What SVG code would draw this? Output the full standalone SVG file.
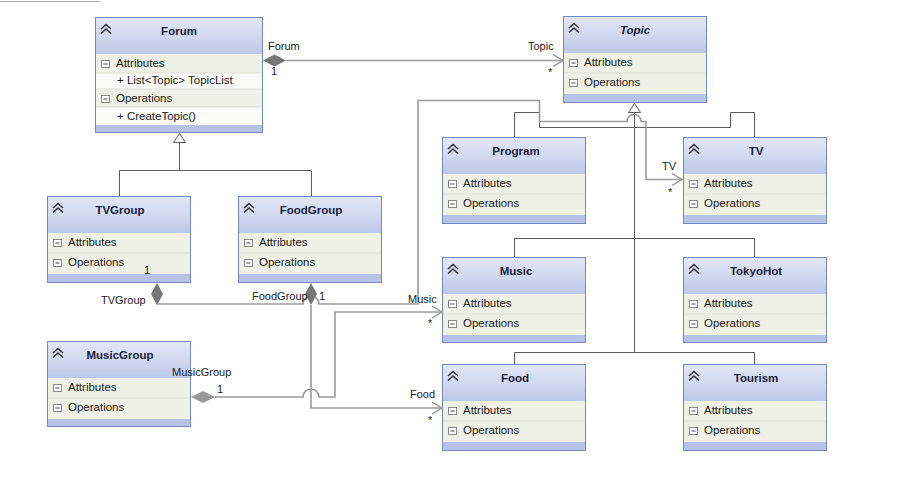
<svg xmlns="http://www.w3.org/2000/svg" xmlns:xlink="http://www.w3.org/1999/xlink" width="904" height="482" viewBox="0 0 904 482">
<style>
text{font-family:"Liberation Sans",Arial,sans-serif;font-size:11.5px;fill:#1a1a1a}
.title{font-weight:bold;text-anchor:middle;fill:#18203a;font-size:11.5px}
.ital{font-style:italic}
.lbl{font-size:11px;fill:#222}
.body{fill:#f6f7f2}
.hdr{fill:url(#hg)}
.sec{fill:#eff1e7}
.item{fill:#fbfbf9}
.band{fill:#b6c3e6}
.frame{fill:none;stroke:#7489bf;stroke-width:1}
.div{stroke:#dcdfd3;stroke-width:1}
.gen{fill:none;stroke:#5c5c5c;stroke-width:1}
.asc{fill:none;stroke:#9c9c9c;stroke-width:1.6}
.dia{fill:#767676}
.tri{fill:#fff;stroke:#5c5c5c;stroke-width:1}
</style>
<defs>
<linearGradient id="hg" x1="0" y1="0" x2="0" y2="1">
<stop offset="0" stop-color="#e3e8f6"/>
<stop offset="0.55" stop-color="#d0d8ef"/>
<stop offset="1" stop-color="#bcc8e9"/>
</linearGradient>
<g id="chev" fill="none" stroke="#333" stroke-width="1.6">
<polyline points="6,12 11,7.5 16,12"/>
<polyline points="6,16.5 11,12 16,16.5"/>
</g>
<g id="mbox">
<rect x="6.5" y="0.5" width="8" height="7" fill="#fff" stroke="#8a8a8a"/>
<line x1="8.5" x2="12.5" y1="4" y2="4" stroke="#444"/>
</g>
<marker id="arr" viewBox="0 0 11 13" refX="10.5" refY="6.5" markerWidth="11" markerHeight="13" orient="auto" markerUnits="userSpaceOnUse">
<path d="M0.5,0.5 L10.5,6.5 L0.5,12.5" fill="none" stroke="#9c9c9c" stroke-width="1.5"/>
</marker>
</defs>
<rect width="904" height="482" fill="#fff"/>
<line x1="0" y1="1.5" x2="100" y2="1.5" stroke="#b0b0b0" stroke-width="1"/>

<g id="Forum" transform="translate(95,17)">
<rect class="body" width="168" height="116"/>
<rect class="hdr" width="168" height="37"/>
<rect class="sec" y="37" width="168" height="19"/>
<rect class="item" y="56" width="168" height="16"/>
<rect class="sec" y="72" width="168" height="18"/>
<rect class="item" y="90" width="168" height="18"/>
<rect class="band" y="108" width="168" height="8"/>
<line class="div" x1="1" x2="167" y1="56" y2="56"/>
<line class="div" x1="1" x2="167" y1="72" y2="72"/>
<line class="div" x1="1" x2="167" y1="90" y2="90"/>
<rect class="frame" x="0.5" y="0.5" width="167" height="115"/>
<use xlink:href="#chev"/>
<text class="title" x="84" y="18">Forum</text>
<use xlink:href="#mbox" y="43"/>
<text x="21" y="50">Attributes</text>
<text x="22" y="67">+ List&lt;Topic&gt; TopicList</text>
<use xlink:href="#mbox" y="78"/>
<text x="21" y="85">Operations</text>
<text x="22" y="103">+ CreateTopic()</text>
</g>

<g id="Topic" transform="translate(563,16)">
<rect class="body" width="144" height="87"/>
<rect class="hdr" width="144" height="37"/>
<rect class="sec" y="37" width="144" height="41"/>
<rect class="band" y="78" width="144" height="9"/>
<line class="div" x1="1" x2="143" y1="57" y2="57"/>
<rect class="frame" x="0.5" y="0.5" width="143" height="86"/>
<use xlink:href="#chev"/>
<text class="title ital" x="72" y="18">Topic</text>
<use xlink:href="#mbox" y="43"/>
<text x="21" y="50">Attributes</text>
<use xlink:href="#mbox" y="63"/>
<text x="21" y="70">Operations</text>
</g>

<g id="Program" transform="translate(442,137)">
<rect class="body" width="144" height="87"/>
<rect class="hdr" width="144" height="37"/>
<rect class="sec" y="37" width="144" height="41"/>
<rect class="band" y="78" width="144" height="9"/>
<line class="div" x1="1" x2="143" y1="57" y2="57"/>
<rect class="frame" x="0.5" y="0.5" width="143" height="86"/>
<use xlink:href="#chev"/>
<text class="title" x="74" y="18">Program</text>
<use xlink:href="#mbox" y="43"/>
<text x="21" y="50">Attributes</text>
<use xlink:href="#mbox" y="63"/>
<text x="21" y="70">Operations</text>
</g>

<g id="TV" transform="translate(683,137)">
<rect class="body" width="144" height="87"/>
<rect class="hdr" width="144" height="37"/>
<rect class="sec" y="37" width="144" height="41"/>
<rect class="band" y="78" width="144" height="9"/>
<line class="div" x1="1" x2="143" y1="57" y2="57"/>
<rect class="frame" x="0.5" y="0.5" width="143" height="86"/>
<use xlink:href="#chev"/>
<text class="title" x="73" y="18">TV</text>
<use xlink:href="#mbox" y="43"/>
<text x="21" y="50">Attributes</text>
<use xlink:href="#mbox" y="63"/>
<text x="21" y="70">Operations</text>
</g>

<g id="TVGroup" transform="translate(47,196)">
<rect class="body" width="144" height="87"/>
<rect class="hdr" width="144" height="37"/>
<rect class="sec" y="37" width="144" height="41"/>
<rect class="band" y="78" width="144" height="9"/>
<line class="div" x1="1" x2="143" y1="57" y2="57"/>
<rect class="frame" x="0.5" y="0.5" width="143" height="86"/>
<use xlink:href="#chev"/>
<text class="title" x="73" y="18">TVGroup</text>
<use xlink:href="#mbox" y="43"/>
<text x="21" y="50">Attributes</text>
<use xlink:href="#mbox" y="63"/>
<text x="21" y="70">Operations</text>
</g>

<g id="FoodGroup" transform="translate(238,196)">
<rect class="body" width="144" height="87"/>
<rect class="hdr" width="144" height="37"/>
<rect class="sec" y="37" width="144" height="41"/>
<rect class="band" y="78" width="144" height="9"/>
<line class="div" x1="1" x2="143" y1="57" y2="57"/>
<rect class="frame" x="0.5" y="0.5" width="143" height="86"/>
<use xlink:href="#chev"/>
<text class="title" x="73" y="18">FoodGroup</text>
<use xlink:href="#mbox" y="43"/>
<text x="21" y="50">Attributes</text>
<use xlink:href="#mbox" y="63"/>
<text x="21" y="70">Operations</text>
</g>

<g id="MusicGroup" transform="translate(47,341)">
<rect class="body" width="144" height="86"/>
<rect class="hdr" width="144" height="37"/>
<rect class="sec" y="37" width="144" height="41"/>
<rect class="band" y="78" width="144" height="8"/>
<line class="div" x1="1" x2="143" y1="57" y2="57"/>
<rect class="frame" x="0.5" y="0.5" width="143" height="85"/>
<use xlink:href="#chev"/>
<text class="title" x="73" y="18">MusicGroup</text>
<use xlink:href="#mbox" y="43"/>
<text x="21" y="50">Attributes</text>
<use xlink:href="#mbox" y="63"/>
<text x="21" y="70">Operations</text>
</g>

<g id="Music" transform="translate(442,257)">
<rect class="body" width="144" height="86"/>
<rect class="hdr" width="144" height="37"/>
<rect class="sec" y="37" width="144" height="41"/>
<rect class="band" y="78" width="144" height="8"/>
<line class="div" x1="1" x2="143" y1="57" y2="57"/>
<rect class="frame" x="0.5" y="0.5" width="143" height="85"/>
<use xlink:href="#chev"/>
<text class="title" x="74" y="18">Music</text>
<use xlink:href="#mbox" y="43"/>
<text x="21" y="50">Attributes</text>
<use xlink:href="#mbox" y="63"/>
<text x="21" y="70">Operations</text>
</g>

<g id="TokyoHot" transform="translate(683,257)">
<rect class="body" width="144" height="86"/>
<rect class="hdr" width="144" height="37"/>
<rect class="sec" y="37" width="144" height="41"/>
<rect class="band" y="78" width="144" height="8"/>
<line class="div" x1="1" x2="143" y1="57" y2="57"/>
<rect class="frame" x="0.5" y="0.5" width="143" height="85"/>
<use xlink:href="#chev"/>
<text class="title" x="73" y="18">TokyoHot</text>
<use xlink:href="#mbox" y="43"/>
<text x="21" y="50">Attributes</text>
<use xlink:href="#mbox" y="63"/>
<text x="21" y="70">Operations</text>
</g>

<g id="Food" transform="translate(442,364)">
<rect class="body" width="144" height="87"/>
<rect class="hdr" width="144" height="37"/>
<rect class="sec" y="37" width="144" height="41"/>
<rect class="band" y="78" width="144" height="9"/>
<line class="div" x1="1" x2="143" y1="57" y2="57"/>
<rect class="frame" x="0.5" y="0.5" width="143" height="86"/>
<use xlink:href="#chev"/>
<text class="title" x="73" y="18">Food</text>
<use xlink:href="#mbox" y="43"/>
<text x="21" y="50">Attributes</text>
<use xlink:href="#mbox" y="63"/>
<text x="21" y="70">Operations</text>
</g>

<g id="Tourism" transform="translate(683,364)">
<rect class="body" width="144" height="87"/>
<rect class="hdr" width="144" height="37"/>
<rect class="sec" y="37" width="144" height="41"/>
<rect class="band" y="78" width="144" height="9"/>
<line class="div" x1="1" x2="143" y1="57" y2="57"/>
<rect class="frame" x="0.5" y="0.5" width="143" height="86"/>
<use xlink:href="#chev"/>
<text class="title" x="73" y="18">Tourism</text>
<use xlink:href="#mbox" y="43"/>
<text x="21" y="50">Attributes</text>
<use xlink:href="#mbox" y="63"/>
<text x="21" y="70">Operations</text>
</g>

<g id="connectors">
<path class="gen" d="M179.5,142 V170.5 M119.5,196 V170.5 H311.5 V196"/>
<polygon class="tri" points="179.5,133.5 173.5,142.5 185.5,142.5"/>
<path class="gen" d="M634.5,112 V352.5 M514.5,137 V112.5 H539.5 V127.5 H730.5 V112.5 H754.5 V137 M514.5,257 V238.5 H754.5 V257 M514.5,364 V352.5 H754.5 V364"/>
<polygon class="tri" points="634.5,103.5 628.5,112.5 640.5,112.5"/>
<path class="asc" d="M286,60.5 H563" marker-end="url(#arr)"/>
<polygon class="dia" points="263,60.5 274.5,54.5 286,60.5 274.5,66.5"/>
<path class="asc" d="M157,304 H303 A8,8 0 0 1 319,304 H418 V100.5 H539.5 V121.5 H627 A7,7 0 0 1 641,121.5 H646 V179.5 H682" marker-end="url(#arr)"/>
<polygon class="dia" points="157,283 163,294 157,305 151,294"/>
<path class="asc" d="M311,305 V408 H442" marker-end="url(#arr)"/>
<polygon class="dia" points="311,283 317,294 311,305 305,294"/>
<path class="asc" d="M215,397 H303 A8,8 0 0 1 319,397 H335 V312 H442" marker-end="url(#arr)"/>
<polygon class="dia" style="fill:#999" points="191,397 203,391 215,397 203,403"/>
<text class="lbl" x="268" y="50">Forum</text>
<text class="lbl" x="271" y="75">1</text>
<text class="lbl" x="528" y="50">Topic</text>
<text class="lbl" x="548" y="76">*</text>
<text class="lbl" x="662" y="170">TV</text>
<text class="lbl" x="668" y="196">*</text>
<text class="lbl" x="101" y="304">TVGroup</text>
<text class="lbl" x="144" y="274">1</text>
<text class="lbl" x="252" y="300">FoodGroup</text>
<text class="lbl" x="319" y="300">1</text>
<text class="lbl" x="408" y="303">Music</text>
<text class="lbl" x="428" y="327">*</text>
<text class="lbl" x="172" y="376">MusicGroup</text>
<text class="lbl" x="217" y="393">1</text>
<text class="lbl" x="410" y="398">Food</text>
<text class="lbl" x="428" y="424">*</text>
</g>
</svg>
